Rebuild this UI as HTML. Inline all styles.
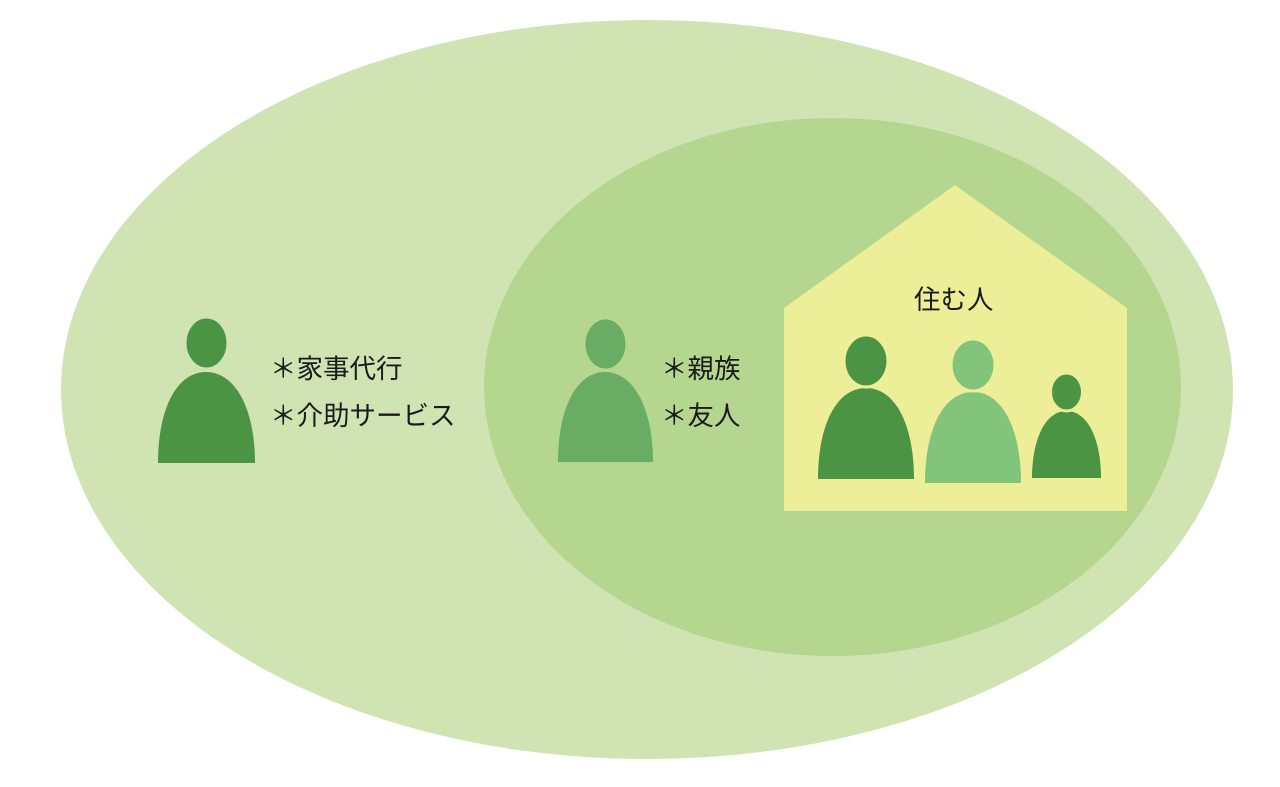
<!DOCTYPE html>
<html><head><meta charset="utf-8"><style>
body{margin:0;background:#fff;}
svg{display:block}
text{font-family:"Liberation Sans","Noto Sans CJK JP",sans-serif;font-size:26.5px;fill:#1a1a1a}
</style></head><body>
<svg width="1280" height="787" viewBox="0 0 1280 787" xmlns="http://www.w3.org/2000/svg">
<ellipse cx="647" cy="389.5" rx="586" ry="369.5" fill="#d0e4b3"/>
<ellipse cx="832.5" cy="387" rx="348.5" ry="269" fill="#b4d68f"/>
<polygon points="955,185 1127,308 1127,511 784,511 784,308" fill="#ecef98"/>
<path d="M158,463 C158,410 176,372 206,372 C236,372 255,410 255,463 Z" fill="#4a9444"/>
<ellipse cx="206.5" cy="343" rx="21.5" ry="26" fill="#4a9444" stroke="#d0e4b3" stroke-width="3"/>
<text x="270" y="378">＊家事代行</text>
<text x="270" y="425">＊介助サービス</text>
<path d="M558,462 C558,409 576,372 605,372 C634,372 653,409 653,462 Z" fill="#68ad63"/>
<ellipse cx="605.5" cy="344" rx="21.5" ry="26" fill="#68ad63" stroke="#b4d68f" stroke-width="3"/>
<text x="661" y="378">＊親族</text>
<text x="661" y="425">＊友人</text>
<text x="914" y="309">住む人</text>
<path d="M818,479 C818,426 836,388 866,388 C896,388 914,426 914,479 Z" fill="#4a9444"/>
<ellipse cx="866" cy="361" rx="22" ry="26" fill="#4a9444" stroke="#ecef98" stroke-width="3"/>
<path d="M925,483 C925,430 943,392 973,392 C1003,392 1021,430 1021,483 Z" fill="#82c47a"/>
<ellipse cx="973" cy="365" rx="22" ry="26" fill="#82c47a" stroke="#ecef98" stroke-width="3"/>
<path d="M1032,478 C1032,440 1045,411 1066.5,411 C1088,411 1101,440 1101,478 Z" fill="#4a9444"/>
<ellipse cx="1066.5" cy="392" rx="16" ry="19" fill="#4a9444" stroke="#ecef98" stroke-width="3"/>
</svg>
</body></html>
